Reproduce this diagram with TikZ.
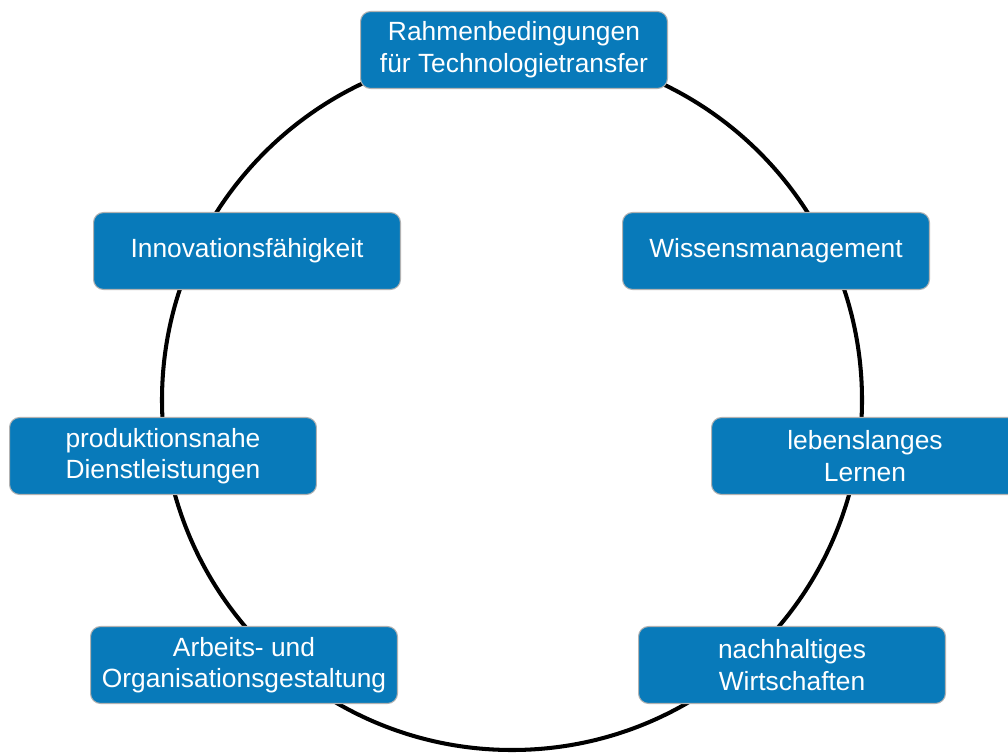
\documentclass[tikz,border=0pt]{standalone}
\usepackage{fontspec}
\setmainfont{Liberation Sans}
\definecolor{boxblue}{RGB}{8,122,186}
\begin{document}
\begin{tikzpicture}[x=0.02cm, y=-0.02cm,
    topic/.style={draw=gray!60, line width=0.6pt, fill=boxblue, rounded corners=0.2cm,
        minimum width=6.14cm, minimum height=1.54cm, inner sep=0pt,
        text=white, align=center, font=\fontsize{15}{18}\selectfont}]
    \useasboundingbox (0,0) rectangle (1008,753);

    % Define the centre of the ring
    \coordinate (M) at (512,400);

    % Draw the ring behind the boxes
    \draw[line width=2.3pt] (M) circle [radius=350];

    % Place the topic boxes around the ring
    \node[topic] (rahmen) at (514,50) {Rahmenbedingungen\\für Technologietransfer};
    \node[topic] (innov) at (247,251) {Innovationsfähigkeit};
    \node[topic] (wissen) at (776,251) {Wissensmanagement};
    \node[topic] (dienst) at (163,456) {produktionsnahe\\Dienstleistungen};
    \node[topic] (lernen) at (865,456) {lebenslanges\\Lernen};
    \node[topic] (arbeit) at (244,665) {Arbeits- und\\Organisationsgestaltung};
    \node[topic] (nachhalt) at (792,665) {nachhaltiges\\Wirtschaften};
\end{tikzpicture}
\end{document}
